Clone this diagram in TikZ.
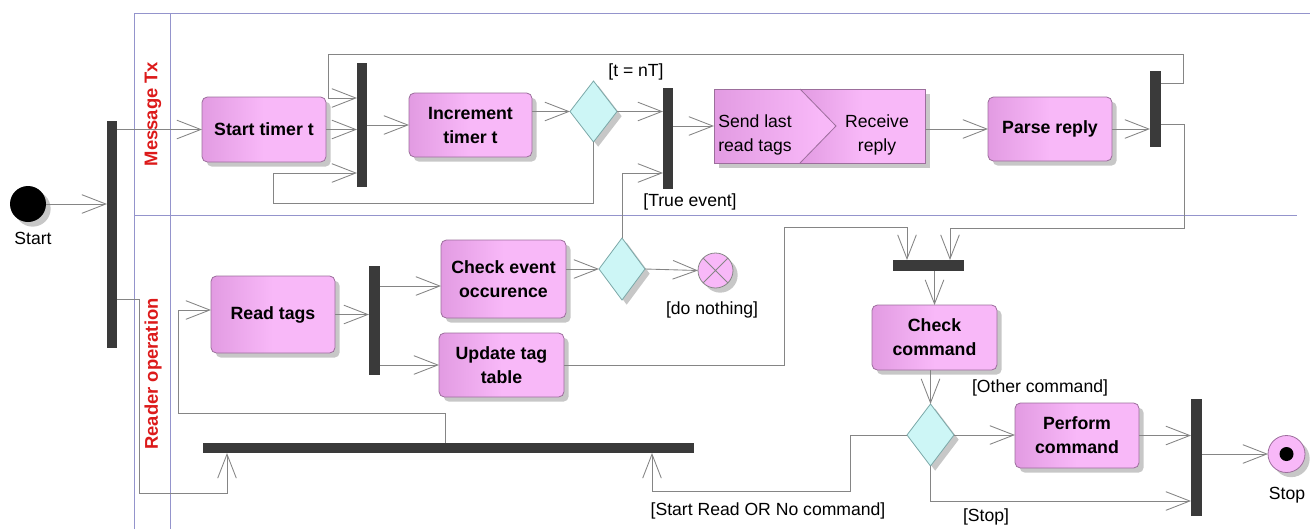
\documentclass[tikz,border=0pt]{standalone}
\usepackage{fontspec}
\setmainfont{Liberation Sans}
\setsansfont{Liberation Sans}
\usetikzlibrary{arrows.meta,shapes.geometric,shadows}

\definecolor{lanec}{HTML}{9494CC}
\definecolor{lanered}{HTML}{DC1A1A}
\definecolor{flowc}{HTML}{858585}
\definecolor{barc}{HTML}{3A3A3A}
\definecolor{actlight}{HTML}{F8B8F8}
\definecolor{actdark}{HTML}{E29BE2}
\definecolor{actedge}{HTML}{9C6E9C}
\definecolor{decfill}{HTML}{CDF6F6}
\definecolor{decedge}{HTML}{7BA8A8}

\begin{document}
\begin{tikzpicture}[x=0.75pt,y=-0.75pt,
  every node/.style={inner sep=0pt,outer sep=0pt},
  shad/.style={drop shadow={shadow xshift=3.5pt,shadow yshift=-3.5pt,fill=black!40,opacity=0.55}},
  txt/.style={font=\fontsize{13.2}{18}\selectfont,align=center},
  act/.style={rectangle,rounded corners=4pt,draw=actedge,line width=0.6pt,
    left color=actdark,right color=actlight,middle color=actlight,shad,
    font=\bfseries\fontsize{13.3}{18}\selectfont,align=center},
  bar/.style={rectangle,fill=barc,draw=none},
  dec/.style={diamond,draw=decedge,fill=decfill,line width=0.6pt,shad},
  flow/.style={draw=flowc,line width=0.65pt,-{Straight Barb[length=18pt,width=14pt]}},
  lane/.style={draw=lanec,line width=0.6pt},
  lanelabel/.style={rotate=90,text=lanered,font=\bfseries\fontsize{13.8}{16}\selectfont}
]
\useasboundingbox (0,0) rectangle (1316,529);

% swimlane frame
\draw[lane] (134,529) -- (134,13) -- (1310,13);
\draw[lane] (170,13) -- (170,529);
\draw[lane] (134,215) -- (1297,215);
\node[lanelabel] (laneA) at (153,114) {Message Tx};
\node[lanelabel] (laneB) at (153,374) {Reader operation};

% initial and final nodes
\node[circle,fill=black,minimum size=27pt,shad] (start) at (28,204) {};
\node[txt] (startlbl) at (33,238) {Start};
\node[circle,draw=actedge,fill=actlight,line width=0.6pt,minimum size=27.75pt,shad] (stop) at (1286.5,454) {};
\fill[black] (stop.center) circle (5.25pt);
\node[txt] (stoplbl) at (1287,495) {Stop};
\node[circle,draw=flowc,fill=actlight,line width=0.6pt,minimum size=26.25pt,shad] (fin) at (715.5,270.5) {};
\draw[flowc,line width=0.6pt] (fin.north west) -- (fin.south east) (fin.north east) -- (fin.south west);

% fork / join bars
\node[bar,minimum width=7.5pt,minimum height=170.25pt] (b1) at (112,234.5) {};
\node[bar,minimum width=7.5pt,minimum height=93pt] (b2) at (362,125) {};
\node[bar,minimum width=7.5pt,minimum height=75.75pt] (b3) at (668,138.5) {};
\node[bar,minimum width=8.25pt,minimum height=57pt] (b6) at (1155.5,109) {};
\node[bar,minimum width=8.25pt,minimum height=81.75pt] (b4) at (374.5,320.5) {};
\node[bar,minimum width=368.25pt,minimum height=7.5pt] (bR) at (448.5,448) {};
\node[bar,minimum width=53.25pt,minimum height=8.25pt] (b7) at (928.5,265.5) {};
\node[bar,minimum width=8.25pt,minimum height=87.75pt] (b8) at (1196.5,457.5) {};

% actions
\node[act,minimum width=93pt,minimum height=48.75pt] (st) at (264,129.5) {Start timer t};
\node[act,minimum width=92.25pt,minimum height=48pt] (inc) at (470.5,125) {Increment\\timer t};
\node[act,minimum width=93pt,minimum height=48pt] (parse) at (1050,129) {Parse reply};
\node[act,minimum width=93pt,minimum height=57.75pt] (rt) at (273,314.5) {Read tags};
\node[act,minimum width=93.75pt,minimum height=58.5pt] (ce) at (503.5,279) {Check event\\occurence};
\node[act,minimum width=93.75pt,minimum height=48pt] (ut) at (501.5,365) {Update tag\\table};
\node[act,minimum width=93.75pt,minimum height=48.75pt] (cc) at (934.5,337.5) {Check\\command};
\node[act,minimum width=93pt,minimum height=48.75pt] (pc) at (1077,435.5) {Perform\\command};

% send / receive pair
\node[act,rounded corners=0pt,minimum width=158.25pt,minimum height=55.5pt] (sr) at (819.5,126) {};
\shade[left color=actdark,right color=actlight,middle color=actlight]
  (800,89) -- (925,89) -- (925,163) -- (800,163) -- (836,126) -- cycle;
\draw[actedge,line width=0.6pt] (sr.north west) rectangle (sr.south east);
\draw[actedge,line width=0.6pt] (800,89) -- (836,126) -- (800,163);
\node[txt] (sendtxt) at (755,134.5) {Send last\\read tags};
\node[txt] (recvtxt) at (877,134.5) {Receive\\reply};

% decisions
\node[dec,minimum width=35.25pt,minimum height=45.75pt] (d1) at (593.5,111.5) {};
\node[dec,minimum width=34.5pt,minimum height=46.5pt] (d2) at (622,269) {};
\node[dec,minimum width=35.25pt,minimum height=46.5pt] (d3) at (930.5,435) {};

% bend points
\coordinate (k1) at (139,299);
\coordinate (k2) at (227,493);
\coordinate (k3) at (273,203);
\coordinate (k4) at (273,173);
\coordinate (k6) at (1183,83);
\coordinate (k7) at (328,54);
\coordinate (k8) at (328,98);
\coordinate (k9) at (1184,124);
\coordinate (k10) at (950,228);
\coordinate (k11) at (784,227);
\coordinate (k12) at (907,227);
\coordinate (k13) at (400,286);
\coordinate (k14) at (445,413);
\coordinate (k15) at (178,310);
\coordinate (k16) at (850,491);
\coordinate (k17) at (652,491);
\coordinate (k18) at (1000,501);

% flows in the message lane
\draw[flow] (start.east) -- (start.east -| b1.west);
\draw[flow] (b1.east |- st.west) -- (st.west);
\draw[flow] (b1.east |- k1) -- (k1) |- (k2) -- (k2 |- bR.south);
\draw[flow] (st.east) -- (st.east -| b2.west);
\draw[flow] (b2.east |- inc.west) -- (inc.west);
\draw[flow] (inc.east |- d1.west) -- (d1.west);
\draw[flow] (d1.east) -- (d1.east -| b3.west);
\draw[flow] (d1.south) |- (k3) -- (k4) -- (k4 -| b2.west);
\draw[flow] (d2.north) |- (b3.west |- k4);
\draw[flow] (b3.east |- sr.west) -- (sr.west);
\draw[flow] (sr.east |- parse.west) -- (parse.west);
\draw[flow] (parse.east) -- (parse.east -| b6.west);
\draw[flow] (b6.east |- k6) -- (k6) |- (k7) -- (k8) -- (k8 -| b2.west);
\draw[flow] (b6.east |- k9) -- (k9) |- (k10) -- (k10 |- b7.north);

% flows in the reader lane
\draw[flow] (ut.east) -| (k11) -- (k12) -- (k12 |- b7.north);
\draw[flow] (rt.east) -- (rt.east -| b4.west);
\draw[flow] (b4.east |- k13) -- (k13 -| ce.west);
\draw[flow] (b4.east |- ut.west) -- (ut.west);
\draw[flow] (ce.east |- d2.west) -- (d2.west);
\draw[flow] (d2.east) -- (fin.west);
\draw[flow] (bR.north -| k14) -- (k14) -| (k15) -- (k15 -| rt.west);
\draw[flow] (b7.south -| cc.north) -- (cc.north);
\draw[flow] (cc.south -| d3.north) -- (d3.north);
\draw[flow] (d3.west) -| (k16) -- (k17) -- (k17 |- bR.south);
\draw[flow] (d3.east) -- (d3.east -| pc.west);
\draw[flow] (pc.east) -- (pc.east -| b8.west);
\draw[flow] (d3.south) |- (k18 -| b8.west);
\draw[flow] (b8.east |- stop.west) -- (stop.west);

% guards
\node[txt] (g1) at (636,72) {[t = nT]};
\node[txt] (g2) at (690,202) {[True event]};
\node[txt] (g3) at (712,310) {[do nothing]};
\node[txt] (g4) at (1040,388) {[Other command]};
\node[txt] (g5) at (768,511) {[Start Read OR No command]};
\node[txt] (g6) at (986,517) {[Stop]};
\end{tikzpicture}
\end{document}
